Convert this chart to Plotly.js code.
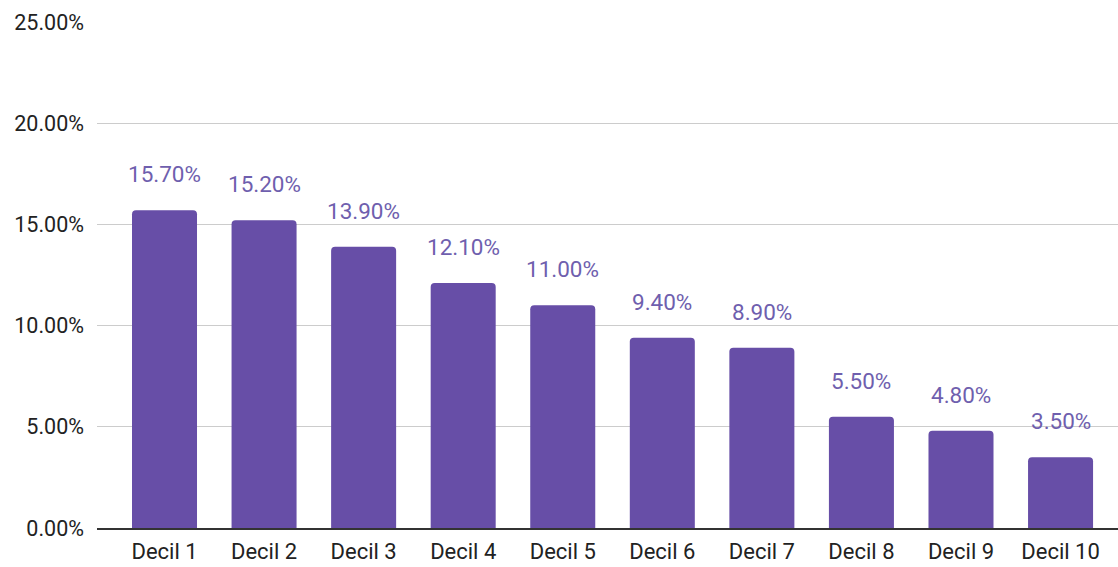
<!DOCTYPE html>
<html>
<head>
<meta charset="utf-8">
<script src="https://cdn.plot.ly/plotly-3.0.1.min.js"></script>
<style>
  html, body { margin: 0; padding: 0; background: #fff; }
  #chart { width: 1118px; height: 567px; }
</style>
</head>
<body>
<div id="chart"></div>
<script>
const categories = ['Decil 1', 'Decil 2', 'Decil 3', 'Decil 4', 'Decil 5',
                    'Decil 6', 'Decil 7', 'Decil 8', 'Decil 9', 'Decil 10'];
const shares = [0.157, 0.152, 0.139, 0.121, 0.110, 0.094, 0.089, 0.055, 0.048, 0.035];
const yTicks = [0, 0.05, 0.10, 0.15, 0.20, 0.25];

const barColor = '#674ea7';
const labelColor = '#6f5fae';

const trace = {
  type: 'bar',
  x: categories,
  y: shares,
  marker: { color: barColor, cornerradius: 4 },
  hoverinfo: 'skip'
};

// value labels floated above each bar
const labels = categories.map((c, i) => ({
  x: c,
  y: shares[i],
  text: (shares[i] * 100).toFixed(2) + '%',
  showarrow: false,
  yanchor: 'bottom',
  yshift: 21,
  font: { family: 'Roboto', size: 22.5, color: labelColor }
}));

const layout = {
  width: 1118,
  height: 567,
  margin: { l: 97, r: 0, t: 22, b: 39 },
  paper_bgcolor: '#fff',
  plot_bgcolor: '#fff',
  showlegend: false,
  bargap: 0.347,
  font: { family: 'Roboto', size: 20, color: '#222' },
  xaxis: {
    type: 'category',
    range: [-0.678, 9.577],
    showgrid: false,
    showline: true,
    linecolor: '#333',
    linewidth: 1.5,
    ticks: '',
    ticklabelstandoff: 3,
    tickfont: { family: 'Roboto', size: 22, color: '#222' }
  },
  yaxis: {
    range: [0, 0.25],
    tickvals: yTicks,
    tickformat: '.2%',
    showgrid: true,
    gridcolor: '#cccccc',
    gridwidth: 1.2,
    zeroline: false,
    showline: false,
    ticks: '',
    ticklabelstandoff: 12,
    tickfont: { family: 'Roboto', size: 21.5, color: '#222' }
  },
  annotations: labels
};

Plotly.newPlot('chart', [trace], layout, { displayModeBar: false, staticPlot: true });
</script>
</body>
</html>
